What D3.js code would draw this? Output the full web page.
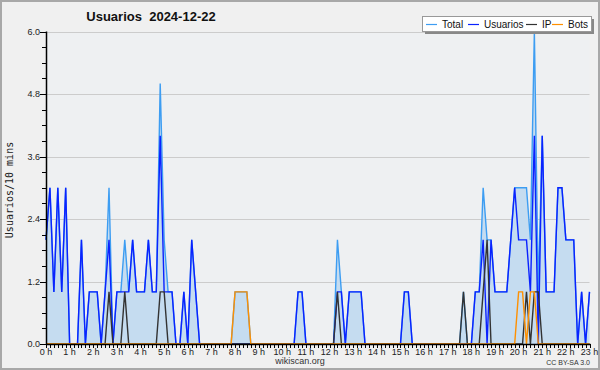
<!DOCTYPE html>
<html>
<head>
<meta charset="utf-8">
<script src="https://cdn.jsdelivr.net/npm/d3@7"></script>
<style>
  body { margin: 0; background: #fff; }
  svg { display: block; }
</style>
</head>
<body>
<svg id="chart" width="600" height="370"></svg>
<script>
// one value every 10 minutes, 0h00 -> 23h00
const hours = d3.range(0, 24).map(h => h + " h");
const total = [2,3,1,3,1,3,0,0,0,2,0,1,1,1,0,1,3,0,1,1,2,1,2,1,1,1,2,1,1,5,2,1,1,0,0,1,0,2,1,0,
  0,0,0,0,0,0,0,0,1,1,1,1,0,0,0,0,0,0,0,0,0,0,0,0,1,1,0,0,0,0,0,0,0,0,2,1,0,1,1,1,
  1,0,0,0,0,0,0,0,0,0,0,1,1,0,0,0,0,0,0,0,0,0,0,0,0,0,1,0,0,1,1,3,2,2,1,1,1,1,2,3,
  3,3,3,2,6,1,4,1,1,1,3,3,2,2,2,0,1,0,1];
const usuarios = [2,3,1,3,1,3,0,0,0,2,0,1,1,1,0,1,2,0,1,1,1,1,2,1,1,1,2,1,1,4,1,1,1,0,0,1,0,2,1,0,
  0,0,0,0,0,0,0,0,0,0,0,0,0,0,0,0,0,0,0,0,0,0,0,0,1,1,0,0,0,0,0,0,0,0,1,1,0,1,1,1,
  1,0,0,0,0,0,0,0,0,0,0,1,1,0,0,0,0,0,0,0,0,0,0,0,0,0,0,0,0,1,1,2,0,2,1,1,1,1,2,3,
  2,2,2,1,4,0,4,1,1,1,3,3,2,2,2,0,1,0,1];
const ip = [0,0,0,0,0,0,0,0,0,0,0,0,0,0,0,0,1,0,0,0,1,0,0,0,0,0,0,0,0,1,1,0,0,0,0,0,0,0,0,0,
  0,0,0,0,0,0,0,0,0,0,0,0,0,0,0,0,0,0,0,0,0,0,0,0,0,0,0,0,0,0,0,0,0,0,1,0,0,0,0,0,
  0,0,0,0,0,0,0,0,0,0,0,0,0,0,0,0,0,0,0,0,0,0,0,0,0,0,1,0,0,0,0,1,2,0,0,0,0,0,0,0,
  0,0,1,0,1,1,0,0,0,0,0,0,0,0,0,0,0,0,0];
const bots = [0,0,0,0,0,0,0,0,0,0,0,0,0,0,0,0,0,0,0,0,0,0,0,0,0,0,0,0,0,0,0,0,0,0,0,0,0,0,0,0,
  0,0,0,0,0,0,0,0,1,1,1,1,0,0,0,0,0,0,0,0,0,0,0,0,0,0,0,0,0,0,0,0,0,0,0,0,0,0,0,0,
  0,0,0,0,0,0,0,0,0,0,0,0,0,0,0,0,0,0,0,0,0,0,0,0,0,0,0,0,0,0,0,0,0,0,0,0,0,0,0,0,
  1,1,0,1,1,0,0,0,0,0,0,0,0,0,0,0,0,0,0];
const yTicks = [0, 1.2, 2.4, 3.6, 4.8, 6.0];

const series = [
  {name: "Total", values: total, color: "#3d9df2"},
  {name: "Usuarios", values: usuarios, color: "#0a22ff"},
  {name: "IP", values: ip, color: "#333333"},
  {name: "Bots", values: bots, color: "#ff9000"}
];

const svg = d3.select("#chart");
const W = 600, H = 370;
const plotLeft = 46, plotRight = 589.5, plotTop = 31.5, plotBottom = 344;
const font = "Liberation Sans";

const x = d3.scaleLinear().domain([0, total.length - 1]).range([plotLeft, plotRight]);
const y = d3.scaleLinear().domain([0, 6]).range([plotBottom, plotTop]);

// frame
svg.append("rect").attr("x", 1).attr("y", 1).attr("width", W - 2).attr("height", H - 2)
  .attr("fill", "#f0f0f0").attr("stroke", "#a8a8a8").attr("stroke-width", 2);
svg.append("rect").attr("x", plotLeft).attr("y", plotTop).attr("width", plotRight - plotLeft).attr("height", plotBottom - plotTop)
  .attr("fill", "#eef0f2");

// grid
svg.append("g").selectAll("line").data(yTicks.slice(1)).enter().append("line")
  .attr("x1", plotLeft).attr("x2", plotRight)
  .attr("y1", d => Math.round(y(d)) + 0.5).attr("y2", d => Math.round(y(d)) + 0.5)
  .attr("stroke", "#cccccc").attr("stroke-width", 1);

// total area
const area = d3.area().x((d, i) => x(i)).y0(y(0)).y1(d => y(d));
svg.append("path").datum(total).attr("d", area).attr("fill", "#c5dcf0");

const line = d3.line().x((d, i) => x(i)).y(d => y(d));
series.forEach(function(s) {
  svg.append("path").datum(s.values).attr("d", line)
    .attr("fill", "none").attr("stroke", s.color).attr("stroke-width", 1.4)
    .attr("stroke-linejoin", "miter");
});

// y axis
const yAxis = svg.append("g").attr("transform", "translate(" + plotLeft + ",0)");
yAxis.append("line").attr("x1", 0.5).attr("x2", 0.5).attr("y1", plotTop).attr("y2", plotBottom)
  .attr("stroke", "#000").attr("stroke-width", 1.5);
yAxis.selectAll(".minor").data(d3.range(0, 6.01, 0.3)).enter().append("line")
  .attr("x1", -4).attr("x2", 0)
  .attr("y1", d => Math.round(y(d)) + 0.5).attr("y2", d => Math.round(y(d)) + 0.5)
  .attr("stroke", "#000");
yAxis.selectAll(".major").data(yTicks).enter().append("line")
  .attr("x1", -6).attr("x2", 0)
  .attr("y1", d => Math.round(y(d)) + 0.5).attr("y2", d => Math.round(y(d)) + 0.5)
  .attr("stroke", "#000");
yAxis.selectAll("text").data(yTicks).enter().append("text")
  .attr("x", -6).attr("y", d => y(d) + 3)
  .attr("text-anchor", "end")
  .attr("font-family", font).attr("font-size", 9).attr("fill", "#222")
  .text(d => d.toFixed(1));

// x axis
const xAxis = svg.append("g").attr("transform", "translate(0," + plotBottom + ")");
xAxis.append("line").attr("x1", plotLeft).attr("x2", plotRight + 1).attr("y1", 0.5).attr("y2", 0.5)
  .attr("stroke", "#000").attr("stroke-width", 1.5);
xAxis.selectAll(".minor").data(d3.range(0, total.length)).enter().append("line")
  .attr("x1", d => Math.round(x(d)) + 0.5).attr("x2", d => Math.round(x(d)) + 0.5)
  .attr("y1", 0).attr("y2", 4)
  .attr("stroke", "#000");
xAxis.selectAll("text").data(hours).enter().append("text")
  .attr("x", (d, i) => x(i * 6)).attr("y", 11)
  .attr("text-anchor", "middle")
  .attr("font-family", font).attr("font-size", 9).attr("fill", "#222")
  .text(d => d);

// titles
svg.append("text").attr("x", 151).attr("y", 21).attr("text-anchor", "middle")
  .attr("font-family", font).attr("font-weight", "bold").attr("font-size", 13)
  .attr("fill", "#111").attr("xml:space", "preserve").text("Usuarios  2024-12-22");
svg.append("text").attr("transform", "translate(13,190) rotate(-90)").attr("text-anchor", "middle")
  .attr("font-family", "DejaVu Sans Mono").attr("font-size", 10).attr("fill", "#222")
  .text("Usuarios/10 mins");
svg.append("text").attr("x", 300).attr("y", 364).attr("text-anchor", "middle")
  .attr("font-family", font).attr("font-size", 9).attr("fill", "#333")
  .text("wikiscan.org");
svg.append("text").attr("x", 590).attr("y", 365).attr("text-anchor", "end")
  .attr("font-family", font).attr("font-size", 7).attr("fill", "#333")
  .text("CC BY-SA 3.0");

// legend
const lg = svg.append("g");
lg.append("rect").attr("x", 425).attr("y", 19).attr("width", 169).attr("height", 15).attr("fill", "#888");
lg.append("rect").attr("x", 422.5).attr("y", 16.5).attr("width", 169).attr("height", 15)
  .attr("fill", "#fff").attr("stroke", "#999");
const legendX = [426, 468, 526, 552];
series.forEach(function(s, i) {
  lg.append("line").attr("x1", legendX[i]).attr("x2", legendX[i] + 11).attr("y1", 24.5).attr("y2", 24.5)
    .attr("stroke", s.color).attr("stroke-width", 1.2);
  lg.append("text").attr("x", legendX[i] + 16).attr("y", 28)
    .attr("font-family", font).attr("font-size", 10).attr("fill", "#111")
    .text(s.name);
});
</script>
</body>
</html>
